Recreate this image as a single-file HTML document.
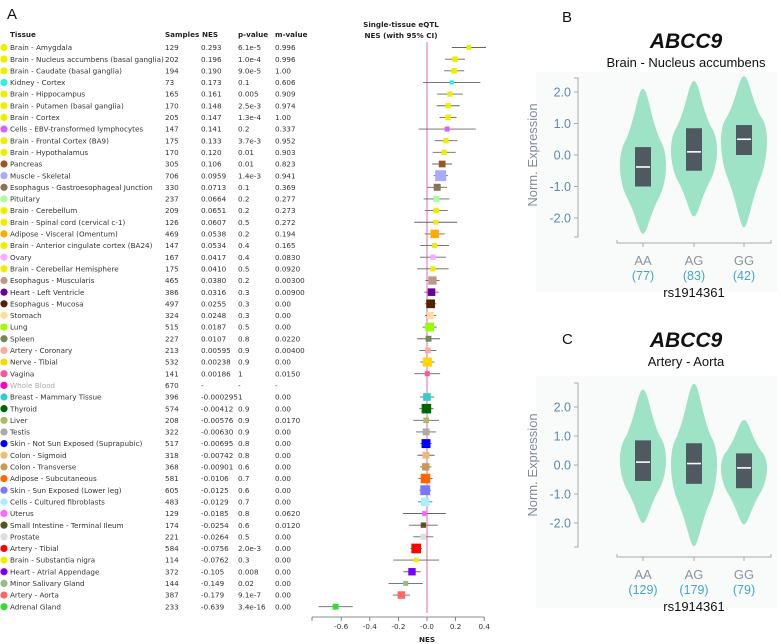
<!DOCTYPE html>
<html><head><meta charset="utf-8">
<style>
html,body{margin:0;padding:0;background:#fff;}
svg{display:block;font-family:"Liberation Sans","DejaVu Sans",sans-serif;}
.t{font-family:"DejaVu Sans","Liberation Sans",sans-serif;font-size:7.2px;fill:#333;}
.h{font-family:"DejaVu Sans","Liberation Sans",sans-serif;font-size:7.2px;font-weight:bold;fill:#222;}
</style></head>
<body>
<svg id="fig" width="781" height="644" viewBox="0 0 781 644" xmlns="http://www.w3.org/2000/svg">
<g id="panelA"></g>
<g id="panelB"></g>
<g id="panelC"></g>
</svg>
<script>
const tissues=["Brain - Amygdala","Brain - Nucleus accumbens (basal ganglia)","Brain - Caudate (basal ganglia)","Kidney - Cortex","Brain - Hippocampus","Brain - Putamen (basal ganglia)","Brain - Cortex","Cells - EBV-transformed lymphocytes","Brain - Frontal Cortex (BA9)","Brain - Hypothalamus","Pancreas","Muscle - Skeletal","Esophagus - Gastroesophageal Junction","Pituitary","Brain - Cerebellum","Brain - Spinal cord (cervical c-1)","Adipose - Visceral (Omentum)","Brain - Anterior cingulate cortex (BA24)","Ovary","Brain - Cerebellar Hemisphere","Esophagus - Muscularis","Heart - Left Ventricle","Esophagus - Mucosa","Stomach","Lung","Spleen","Artery - Coronary","Nerve - Tibial","Vagina","Whole Blood","Breast - Mammary Tissue","Thyroid","Liver","Testis","Skin - Not Sun Exposed (Suprapubic)","Colon - Sigmoid","Colon - Transverse","Adipose - Subcutaneous","Skin - Sun Exposed (Lower leg)","Cells - Cultured fibroblasts","Uterus","Small Intestine - Terminal Ileum","Prostate","Artery - Tibial","Brain - Substantia nigra","Heart - Atrial Appendage","Minor Salivary Gland","Artery - Aorta","Adrenal Gland"];
const colors=["#eeee00","#eeee00","#eeee00","#33eedd","#eeee00","#eeee00","#eeee00","#cc66ff","#eeee00","#eeee00","#995522","#aaaaff","#8b7355","#aaff99","#eeee00","#eeee00","#ffaa00","#eeee00","#ffaaff","#eeee00","#bb9988","#660099","#552200","#ffdd99","#99ff00","#778855","#ffaa99","#ffd700","#ff5599","#ff00bb","#33cccc","#006600","#aabb66","#aaaaaa","#0000ff","#eebb77","#cc9955","#ff6600","#7777ff","#aaeeff","#ff66ff","#555522","#dddddd","#ff0000","#eeee00","#7700ff","#99bb88","#ff6666","#33dd33"];
const samples=[129,202,194,73,165,170,205,147,175,170,305,706,330,237,209,126,469,147,167,175,465,386,497,324,515,227,213,532,141,670,396,574,208,322,517,318,368,581,605,483,129,174,221,584,114,372,144,387,233];
const nesLabels=["0.293","0.196","0.190","0.173","0.161","0.148","0.147","0.141","0.133","0.120","0.106","0.0959","0.0713","0.0664","0.0651","0.0607","0.0538","0.0534","0.0417","0.0410","0.0380","0.0316","0.0255","0.0248","0.0187","0.0107","0.00595","0.00238","0.00186","-","-0.000295","-0.00412","-0.00576","-0.00630","-0.00695","-0.00742","-0.00901","-0.0106","-0.0125","-0.0129","-0.0185","-0.0254","-0.0264","-0.0756","-0.0762","-0.105","-0.149","-0.179","-0.639"];
const pvals=["6.1e-5","1.0e-4","9.0e-5","0.1","0.005","2.5e-3","1.3e-4","0.2","3.7e-3","0.01","0.01","1.4e-3","0.1","0.2","0.2","0.5","0.2","0.4","0.4","0.5","0.2","0.3","0.3","0.3","0.5","0.8","0.9","0.9","1","-","1","0.9","0.9","0.9","0.8","0.8","0.6","0.7","0.6","0.7","0.8","0.6","0.5","2.0e-3","0.3","0.008","0.02","9.1e-7","3.4e-16"];
const mvals=["0.996","0.996","1.00","0.606","0.909","0.974","1.00","0.337","0.952","0.903","0.823","0.941","0.369","0.277","0.273","0.272","0.194","0.165","0.0830","0.0920","0.00300","0.00900","0.00","0.00","0.00","0.0220","0.00400","0.00","0.0150","-","0.00","0.00","0.0170","0.00","0.00","0.00","0.00","0.00","0.00","0.00","0.0620","0.0120","0.00","0.00","0.00","0.00","0.00","0.00","0.00"];
const nes=[0.293,0.196,0.190,0.173,0.161,0.148,0.147,0.141,0.133,0.120,0.106,0.0959,0.0713,0.0664,0.0651,0.0607,0.0538,0.0534,0.0417,0.0410,0.0380,0.0316,0.0255,0.0248,0.0187,0.0107,0.00595,0.00238,0.00186,null,-0.000295,-0.00412,-0.00576,-0.00630,-0.00695,-0.00742,-0.00901,-0.0106,-0.0125,-0.0129,-0.0185,-0.0254,-0.0264,-0.0756,-0.0762,-0.105,-0.149,-0.179,-0.639];
const ciHalf=[0.12,0.07,0.07,0.2,0.09,0.08,0.06,0.2,0.08,0.08,0.07,0.05,0.07,0.09,0.08,0.15,0.07,0.1,0.09,0.11,0.05,0.05,0.04,0.04,0.05,0.08,0.06,0.05,0.09,null,0.05,0.05,0.09,0.07,0.04,0.06,0.04,0.05,0.04,0.05,0.15,0.1,0.07,0.04,0.16,0.06,0.12,0.06,0.12];
const nesTicks=[-0.6,-0.4,-0.2,0.0,0.2,0.4];
const nesTickLabels=["-0.6","-0.4","-0.2","-0.0","0.2","0.4"];

const NS="http://www.w3.org/2000/svg";
function mk(parent,tag,attrs,text){const e=document.createElementNS(NS,tag);for(const k in attrs)e.setAttribute(k,attrs[k]);if(text!==undefined)e.textContent=text;parent.appendChild(e);return e;}

// ---------- Panel A ----------
const A=document.getElementById('panelA');
const xs=v=>427+v*143;
const rowY=i=>47.5+i*11.65;
let e;
e=mk(A,'text',{x:7,y:19,'font-size':15,fill:'#111'},'A');


const hdr=[["Tissue",10],["Samples",165],["NES",202],["p-value",238],["m-value",275]];
hdr.forEach(h=>{const t=mk(A,'text',{x:h[1],y:37,class:'h'},h[0]);

});
e=mk(A,'text',{x:401,y:27,class:'h','text-anchor':'middle'},'Single-tissue eQTL');


e=mk(A,'text',{x:401,y:38,class:'h','text-anchor':'middle'},'NES (with 95% CI)');


e=mk(A,'line',{x1:xs(0),x2:xs(0),y1:42,y2:613,stroke:'#e9a3c9','stroke-width':1.6});


tissues.forEach((name,i)=>{
  const y=rowY(i);
  const row=mk(A,'g',{});
  
  
  const c=mk(row,'circle',{cx:4,cy:y,r:3.6,fill:colors[i]});
  
  
  const gray=nes[i]===null;
  const t=mk(row,'text',{x:10,y:y+2.6,class:'t',style:gray?'fill:#aaa':''},name);
  
  
  [[samples[i],165],[nesLabels[i],201],[pvals[i],238],[mvals[i],275]].forEach(v=>{
    const tt=mk(row,'text',{x:v[1],y:y+2.6,class:'t'},String(v[0]));
    
    
  });
  if(!gray){
    const l=mk(row,'line',{x1:xs(nes[i]-ciHalf[i]),x2:xs(nes[i]+ciHalf[i]),y1:y,y2:y,stroke:'#666','stroke-width':0.9});
    
    
    const s=3.5+samples[i]/95;
    const r=mk(row,'rect',{x:xs(nes[i])-s/2,y:y-s/2,width:s,height:s,fill:colors[i]});
    
    
  }
});
e=mk(A,'line',{x1:312,x2:xs(0.4),y1:617,y2:617,stroke:'#666','stroke-width':0.8});


e=mk(A,'line',{x1:312,x2:312,y1:617,y2:621,stroke:'#666','stroke-width':0.8});
nesTicks.forEach((v,k)=>{
  mk(A,'line',{x1:xs(v),x2:xs(v),y1:617,y2:621,stroke:'#666','stroke-width':0.8});
  const t=mk(A,'text',{x:xs(v),y:629,class:'t','text-anchor':'middle'},nesTickLabels[k]);
  
  
});
e=mk(A,'text',{x:xs(0),y:642,class:'h','text-anchor':'middle','font-size':8},'NES');



// ---------- Violin panels ----------
const genotypes=["AA","AG","GG"];
const yTicks=[2.0,1.0,0.0,-1.0,-2.0];
const yTickLabels=["2.0","1.0","0.0","-1.0","-2.0"];
const countsB=[77,83,42];
const vMinB=[-2.5,-1.95,-2.3], vMaxB=[2.1,2.35,2.5], vModeB=[-0.4,0.1,0.5];
const q1B=[-1.0,-0.5,0.0], medB=[-0.38,0.1,0.5], q3B=[0.25,0.85,0.95];
const countsC=[129,179,79];
const vMinC=[-2.0,-2.8,-2.05], vMaxC=[2.6,2.8,1.55], vModeC=[0.1,0.0,-0.1];
const q1C=[-0.55,-0.65,-0.8], medC=[0.1,0.05,-0.1], q3C=[0.85,0.75,0.4];

function violinPanel(G,o){
  const ys=v=>o.zero-v*o.scale;
  const cx=[643,694,744];
  let e;
  e=mk(G,'rect',{x:536,y:o.bgTop,width:241,height:o.bgH,fill:'#f9fbfb'});
  
  
  e=mk(G,'text',{x:562,y:o.letterY,'font-size':15,fill:'#111'},o.letter);
  
  
  e=mk(G,'text',{x:686,y:o.titleY,'font-size':21,'font-weight':'bold','font-style':'italic','text-anchor':'middle',fill:'#111'},'ABCC9');
  
  
  e=mk(G,'text',{x:686,y:o.titleY+19,'font-size':13,'text-anchor':'middle',fill:'#111'},o.sub);
  
  
  e=mk(G,'path',{d:`M574 ${o.axTop} H578 V${o.axBot} H574`,fill:'none',stroke:'#aaa','stroke-width':1});
  
  
  yTicks.forEach((v,k)=>{
    mk(G,'line',{x1:574,x2:578,y1:ys(v),y2:ys(v),stroke:'#aaa'});
    const t=mk(G,'text',{x:571,y:ys(v)+4.5,'font-size':12.5,'text-anchor':'end',fill:'#5b8aa6'},yTickLabels[k]);
    
    
  });
  e=mk(G,'text',{x:0,y:0,'font-size':13,'text-anchor':'middle',fill:'#7d8b99',transform:`translate(537 ${o.zero}) rotate(-90)`},'Norm. Expression');
  
  
  e=mk(G,'path',{d:`M617 ${o.xAx-3} V${o.xAx} H771 V${o.xAx-3}`,fill:'none',stroke:'#aaa','stroke-width':1});
  
  
  genotypes.forEach((g,k)=>{
    mk(G,'line',{x1:cx[k],x2:cx[k],y1:o.xAx,y2:o.xAx+4,stroke:'#aaa'});
    const top=ys(o.vMax[k]),bot=ys(o.vMin[k]),mid=ys(o.vMode[k]),w=24.5;
    const x=cx[k];
    const a=mid-top,b=bot-mid;
    const d=`M${x} ${top} C${x+5} ${top} ${x+7} ${top+a*0.35} ${x+w*0.7} ${top+a*0.65} C${x+w*1.02} ${mid-a*0.2} ${x+w*1.02} ${mid+b*0.15} ${x+w*0.7} ${mid+b*0.42} C${x+7} ${bot-b*0.3} ${x+4} ${bot} ${x} ${bot} C${x-4} ${bot} ${x-7} ${bot-b*0.3} ${x-w*0.7} ${mid+b*0.42} C${x-w*1.02} ${mid+b*0.15} ${x-w*1.02} ${mid-a*0.2} ${x-w*0.7} ${top+a*0.65} C${x-7} ${top+a*0.35} ${x-5} ${top} ${x} ${top} Z`;
    const p=mk(G,'path',{d:d,fill:'#9fe3c6'});
    
    
    const bx=mk(G,'rect',{x:x-8,y:ys(o.q3[k]),width:16,height:ys(o.q1[k])-ys(o.q3[k]),fill:'#4f5960'});
    
    
    const m=mk(G,'line',{x1:x-7,x2:x+7,y1:ys(o.med[k]),y2:ys(o.med[k]),stroke:'#fff','stroke-width':1.6});
    
    
    const t=mk(G,'text',{x:x,y:o.xAx+22,'font-size':13,'text-anchor':'middle',fill:'#8b949c'},g);
    
    
    const c=mk(G,'text',{x:x,y:o.xAx+37,'font-size':12.5,'text-anchor':'middle',fill:'#44a6c6'},'('+o.counts[k]+')');
    
    
  });
  e=mk(G,'text',{x:694,y:o.xAx+54,'font-size':13,'text-anchor':'middle',fill:'#111'},'rs1914361');
  
  
}
violinPanel(document.getElementById('panelB'),{letter:'B',letterY:22,sub:'Brain - Nucleus accumbens',titleY:48,zero:155,scale:31.5,axTop:78,axBot:237,xAx:243,bgTop:72,bgH:220,
  counts:countsB,vMin:vMinB,vMax:vMaxB,vMode:vModeB,q1:q1B,med:medB,q3:q3B});
violinPanel(document.getElementById('panelC'),{letter:'C',letterY:344,sub:'Artery - Aorta',titleY:347,zero:465,scale:29,axTop:383,axBot:547,xAx:557,bgTop:376,bgH:232,
  counts:countsC,vMin:vMinC,vMax:vMaxC,vMode:vModeC,q1:q1C,med:medC,q3:q3C});
</script>
</body></html>
